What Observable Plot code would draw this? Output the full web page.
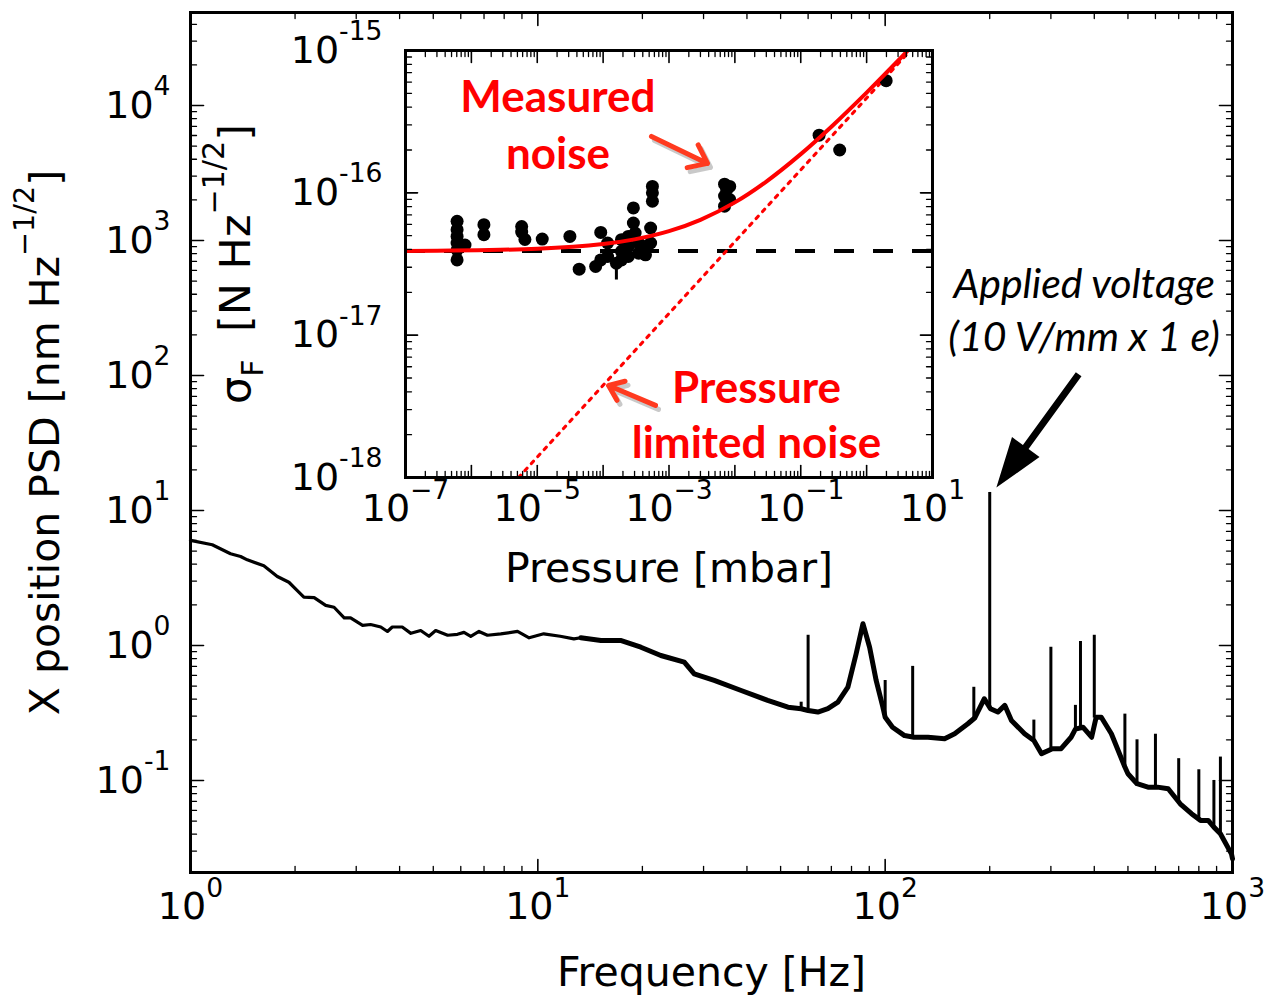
<!DOCTYPE html>
<html>
<head>
<meta charset="utf-8">
<script src="https://cdn.jsdelivr.net/npm/d3@7"></script>
<script src="https://cdn.jsdelivr.net/npm/@observablehq/plot@0.6"></script>
<style>
  body { margin: 0; background: #fff; }
  #wrap { position: relative; width: 1266px; height: 997px; background: #fff; }
  #wrap svg { position: absolute; }
</style>
</head>
<body>
<div id="wrap"></div>
<script>
// ---------- Main chart data: X position PSD vs frequency ----------
const psdFreq = [1.0, 1.155, 1.304, 1.394, 1.457, 1.626, 1.778, 1.92, 2.03, 2.12, 2.27, 2.45, 2.59, 2.77, 2.89, 3.13, 3.30, 3.53, 3.69, 3.81, 4.07, 4.31, 4.60, 4.86, 5.08, 5.50, 5.87, 6.13, 6.41, 6.77, 7.16, 7.82, 8.74, 9.44, 10.4, 11.6, 12.7, 13.3, 15.2, 17.3, 19.8, 22.6, 26.4, 28.2, 32.2, 38.5, 45.9, 52.5, 57.3, 60.0, 64.0, 68.4, 73.1, 78.1, 82.5, 86.3, 90.2, 94.2, 98.5, 100, 105, 113.7, 121, 132.8, 148.3, 158.5, 173, 181, 193, 201, 211, 221, 231, 252, 268, 282, 303, 321, 343, 353, 371, 393, 405, 419, 448, 490, 500, 531, 571, 608, 653, 707, 762, 809, 851, 884, 923, 993, 1000];
const psdValue = [6.0, 5.57, 4.78, 4.56, 4.31, 3.89, 3.24, 2.94, 2.55, 2.28, 2.26, 1.98, 1.92, 1.60, 1.60, 1.41, 1.43, 1.37, 1.27, 1.37, 1.37, 1.23, 1.29, 1.17, 1.29, 1.19, 1.21, 1.25, 1.17, 1.27, 1.19, 1.22, 1.27, 1.14, 1.22, 1.17, 1.12, 1.14, 1.09, 1.09, 0.971, 0.843, 0.752, 0.617, 0.551, 0.464, 0.392, 0.349, 0.340, 0.33, 0.321, 0.340, 0.380, 0.491, 0.868, 1.45, 0.971, 0.551, 0.349, 0.294, 0.248, 0.215, 0.209, 0.209, 0.204, 0.222, 0.263, 0.29, 0.403, 0.340, 0.321, 0.36, 0.278, 0.222, 0.198, 0.158, 0.172, 0.172, 0.209, 0.24, 0.248, 0.209, 0.294, 0.294, 0.222, 0.1256, 0.112, 0.0946, 0.0892, 0.0892, 0.0868, 0.0672, 0.0567, 0.0506, 0.0506, 0.0451, 0.0403, 0.0286, 0.0263];
// narrow spectral lines
const spikeFreq = [57.3, 60, 100, 120, 180, 200, 268, 300, 353, 365, 400, 490, 531, 600, 700, 800, 884, 923];
const spikeBase = [0.34, 0.33, 0.30, 0.21, 0.29, 0.34, 0.20, 0.17, 0.24, 0.24, 0.29, 0.125, 0.095, 0.089, 0.067, 0.051, 0.045, 0.040];
const spikeTop  = [0.38, 1.19, 0.55, 0.70, 0.49, 13.6, 0.28, 0.97, 0.36, 1.07, 1.19, 0.31, 0.20, 0.22, 0.145, 0.12, 0.10, 0.149];
const mainXTicks = [1, 10, 100, 1000];
const mainXTickLabels = ["10^{0}", "10^{1}", "10^{2}", "10^{3}"];
const mainYTicks = [0.1, 1, 10, 100, 1000, 10000];
const mainYTickLabels = ["10^{-1}", "10^{0}", "10^{1}", "10^{2}", "10^{3}", "10^{4}"];
const mainXLabel = "Frequency [Hz]";
const mainYLabel = "X position PSD [nm Hz^{\u22121/2}]";
const voltText = "Applied voltage\n(10 V/mm x 1 e)";

// ---------- Inset data: force noise vs pressure ----------
const pressure = [6.07e-7, 6.07e-7, 6.07e-7, 6.07e-7, 6.07e-7, 6.07e-7, 8.0e-7, 1.55e-6, 1.55e-6, 5.8e-6, 5.8e-6, 6.5e-6, 1.19e-5, 3.13e-5, 4.33e-5, 9.2e-5, 9.2e-5, 7.7e-5, 1.17e-4, 1.17e-4, 1.59e-4, 1.9e-4, 1.9e-4, 1.9e-4, 2.41e-4, 2.41e-4, 2.41e-4, 2.88e-4, 2.88e-4, 3.06e-4, 3.46e-4, 3.46e-4, 4.4e-4, 4.4e-4, 5.26e-4, 5.26e-4, 5.6e-4, 5.6e-4, 5.6e-4, 6.97e-3, 6.97e-3, 6.97e-3, 7.5e-3, 8.35e-3, 8.35e-3, 0.19, 0.39, 1.98];
const sigma = [6.31e-17, 5.51e-17, 4.94e-17, 4.44e-17, 3.98e-17, 3.38e-17, 4.3e-17, 5.97e-17, 5.08e-17, 5.8e-17, 5.3e-17, 4.7e-17, 4.73e-17, 4.94e-17, 2.91e-17, 5.27e-17, 3.38e-17, 3.04e-17, 4.44e-17, 3.57e-17, 3.2e-17, 4.69e-17, 3.88e-17, 3.38e-17, 4.94e-17, 4.2e-17, 3.57e-17, 6.14e-17, 7.83e-17, 5.22e-17, 4.44e-17, 3.77e-17, 4.2e-17, 3.67e-17, 5.66e-17, 4.44e-17, 8.73e-17, 1.0e-16, 1.11e-16, 1.15e-16, 9.5e-17, 8.06e-17, 1.05e-16, 1.11e-16, 8.97e-17, 2.54e-16, 2.0e-16, 6.14e-16];
const errPressure = [1.59e-4];
const errLow = [2.44e-17];
const errHigh = [3.5e-17];
const fitPressure = [1e-7, 1e-5, 1e-4, 3e-4, 1e-3, 3e-3, 1e-2, 3e-2, 0.1, 0.3, 1, 3, 4.3];
const fitSigma = [3.9e-17, 4.05e-17, 4.37e-17, 4.71e-17, 5.38e-17, 6.46e-17, 8.57e-17, 1.2e-16, 1.87e-16, 2.95e-16, 5.06e-16, 8.47e-16, 1.01e-15];
const limitPressure = [5.2e-6, 4.6];
const limitSigma = [1e-18, 1e-15];
const floorSigma = [3.9e-17];
const insetXTicks = [1e-7, 1e-5, 1e-3, 1e-1, 10];
const insetXTickLabels = ["10^{\u22127}", "10^{\u22125}", "10^{\u22123}", "10^{\u22121}", "10^{1}"];
const insetYTicks = [1e-18, 1e-17, 1e-16, 1e-15];
const insetYTickLabels = ["10^{-18}", "10^{-17}", "10^{-16}", "10^{-15}"];
const insetXLabel = "Pressure [mbar]";
const insetYLabel = "\u03c3_{F}\u00a0 [N Hz^{\u22121/2}]";
const measuredText = "Measured\nnoise";
const limitedText = "Pressure\nlimited noise";

// ---------- helpers ----------
const svgns = "http://www.w3.org/2000/svg";
function richify(el) {
  const str = el.textContent;
  const parts = str.split(/(\^\{[^}]*\}|_\{[^}]*\})/).filter(s => s.length);
  el.textContent = "";
  let off = 0;
  for (const p of parts) {
    let txt = p, target = 0, k = 1;
    if (p.startsWith("^{")) { txt = p.slice(2, -1); target = -0.6; k = 0.7; }
    else if (p.startsWith("_{")) { txt = p.slice(2, -1); target = 0.3; k = 0.7; }
    const ts = document.createElementNS(svgns, "tspan");
    if (k !== 1) ts.setAttribute("font-size", (k * 100) + "%");
    const d = target - off;
    if (d) ts.setAttribute("dy", (d / k).toFixed(3) + "em");
    ts.textContent = txt;
    el.appendChild(ts);
    off = target;
  }
}
function rich(svg) {
  svg.querySelectorAll("text").forEach(el => {
    if (el.querySelector("tspan")) return;
    if (/[\^_]\{/.test(el.textContent)) richify(el);
  });
}
const tickShape = {draw(ctx, l) { ctx.moveTo(0, 0); ctx.lineTo(0, -l); }};
function frameTicks(domain, axis, majorLen, minorLen) {
  const all = d3.scaleLog().domain(domain).ticks();
  const isMajor = v => Math.abs(Math.log10(v) - Math.round(Math.log10(v))) < 1e-9;
  const major = all.filter(isMajor), minor = all.filter(v => !isMajor(v));
  const sides = axis === "x" ? [["bottom", 0], ["top", 180]] : [["left", 90], ["right", 270]];
  const marks = [];
  for (const [side, rot] of sides) {
    for (const [vals, len, sw] of [[major, majorLen, 1.6], [minor, minorLen, 1.3]]) {
      marks.push(Plot.vector(vals, {[axis]: d => d, frameAnchor: side, rotate: rot, length: len,
        anchor: "start", shape: tickShape, stroke: "black", strokeWidth: sw}));
    }
  }
  return marks;
}
const labelFor = (ticks, labels) => d => labels[ticks.findIndex(t => Math.abs(t / d - 1) < 1e-6)];

const baseStyle = {background: "transparent", color: "black", fontFamily: "'DejaVu Sans', sans-serif", overflow: "visible"};

// ---------- main plot ----------
const xDom = [1, 1000], yDom = [0.0208, 48900];
const psd = psdFreq.map((f, i) => ({f, v: psdValue[i]}));
const spikes = spikeFreq.map((f, i) => ({f, lo: spikeBase[i], hi: spikeTop[i]}));
const arrowShape = {draw(ctx, l) {
  const h = 50, hw = 17, sw = 3.5;
  ctx.moveTo(-sw, 0); ctx.lineTo(-sw, -(l - h)); ctx.lineTo(-hw, -(l - h)); ctx.lineTo(0, -l);
  ctx.lineTo(hw, -(l - h)); ctx.lineTo(sw, -(l - h)); ctx.lineTo(sw, 0); ctx.closePath();
}};
const main = Plot.plot({
  width: 1266, height: 997,
  marginLeft: 190, marginRight: 34, marginTop: 12, marginBottom: 125,
  style: baseStyle,
  x: {type: "log", domain: xDom},
  y: {type: "log", domain: yDom},
  marks: [
    // low-frequency part is a thin trace; above ~15 Hz the noisy trace reads as a thicker band
    Plot.line(psd.filter(d => d.f <= 15.2), {x: "f", y: "v", stroke: "black", strokeWidth: 3.2, strokeLinejoin: "round"}),
    Plot.line(psd.filter(d => d.f >= 13.3), {x: "f", y: "v", stroke: "black", strokeWidth: 5, strokeLinejoin: "round"}),
    Plot.ruleX(spikes, {x: "f", y1: "lo", y2: "hi", stroke: "black", strokeWidth: 3}),
    ...frameTicks(xDom, "x", 13, 6),
    ...frameTicks(yDom, "y", 13, 6),
    Plot.frame({stroke: "black", strokeWidth: 3}),
    Plot.axisX({ticks: mainXTicks, tickSize: 0, tickPadding: 20, fontSize: 38, label: null,
      tickFormat: labelFor(mainXTicks, mainXTickLabels)}),
    Plot.axisY({ticks: mainYTicks, tickSize: 0, tickPadding: 20, fontSize: 38, label: null,
      tickFormat: labelFor(mainYTicks, mainYTickLabels)}),
    Plot.text([mainXLabel], {frameAnchor: "bottom", dy: 100, text: d => d, fontSize: 41, fill: "black",
      textAnchor: "middle", lineAnchor: "middle"}),
    Plot.text([mainYLabel], {frameAnchor: "left", dx: -145, rotate: -90, text: d => d, fontSize: 41, fill: "black",
      textAnchor: "middle", lineAnchor: "middle"}),
    Plot.vector([{f: 209, v: 14.8}], {x: "f", y: "v", anchor: "end", rotate: 216, length: 140,
      shape: arrowShape, fill: "black", stroke: null}),
    Plot.text([voltText], {x: () => 374, y: () => 319, text: d => d, fontSize: 41, fontStyle: "italic",
      fontFamily: "Lato, 'Open Sans', sans-serif", lineHeight: 1.28, fill: "black"})
  ]
});
main.style.left = "0px"; main.style.top = "0px";
rich(main);

// ---------- inset plot ----------
const pxDom = [1e-7, 10], pyDom = [1e-18, 1e-15];
const pts = pressure.map((p, i) => ({p, s: sigma[i]}));
const fit = fitPressure.map((p, i) => ({p, s: fitSigma[i]}));
const lim = limitPressure.map((p, i) => ({p, s: limitSigma[i]}));
const err = errPressure.map((p, i) => ({p, lo: errLow[i], hi: errHigh[i]}));
const redArrows = [
  {x1: 5.42e-4, y1: 2.49e-16, x2: 3.84e-3, y2: 1.61e-16},
  {x1: 6.24e-4, y1: 3.21e-18, x2: 1.21e-4, y2: 4.43e-18}
];
const inset = Plot.plot({
  width: 760, height: 600,
  marginLeft: 215, marginRight: 18, marginTop: 50, marginBottom: 123,
  style: baseStyle,
  x: {type: "log", domain: pxDom},
  y: {type: "log", domain: pyDom},
  marks: [
    Plot.frame({fill: "white", stroke: null}),
    Plot.ruleY(floorSigma, {stroke: "black", strokeWidth: 4, strokeDasharray: "20,19"}),
    Plot.line(lim, {x: "p", y: "s", stroke: "#ff0000", strokeWidth: 3.2, strokeDasharray: "3,6.5", clip: true}),
    Plot.dot(pts, {x: "p", y: "s", r: 6.5, fill: "black", stroke: null}),
    Plot.ruleX(err, {x: "p", y1: "lo", y2: "hi", stroke: "black", strokeWidth: 3}),
    Plot.line(fit, {x: "p", y: "s", stroke: "#ff0000", strokeWidth: 4, curve: "catmull-rom", clip: true}),
    Plot.arrow(redArrows, {x1: "x1", y1: "y1", x2: "x2", y2: "y2", stroke: "#888", strokeOpacity: 0.45,
      strokeWidth: 5, headLength: 22, headAngle: 75, dx: 3, dy: 4}),
    Plot.arrow(redArrows, {x1: "x1", y1: "y1", x2: "x2", y2: "y2", stroke: "#ff3a1f",
      strokeWidth: 5, headLength: 22, headAngle: 75}),
    Plot.text([measuredText], {x: () => 2.06e-5, y: () => 3.12e-16, text: d => d, fontSize: 44,
      fontWeight: "bold", fontFamily: "Lato, 'Open Sans', sans-serif", lineHeight: 1.3, fill: "#ff0000"}),
    Plot.text([limitedText], {x: () => 0.0213, y: () => 2.86e-18, text: d => d, fontSize: 44,
      fontWeight: "bold", fontFamily: "Lato, 'Open Sans', sans-serif", lineHeight: 1.25, fill: "#ff0000"}),
    ...frameTicks(pxDom, "x", 12, 6),
    ...frameTicks(pyDom, "y", 12, 6),
    Plot.frame({stroke: "black", strokeWidth: 3}),
    Plot.axisX({ticks: insetXTicks, tickSize: 0, tickPadding: 17, fontSize: 38, label: null,
      tickFormat: labelFor(insetXTicks, insetXTickLabels)}),
    Plot.axisY({ticks: insetYTicks, tickSize: 0, tickPadding: 23, fontSize: 38, label: null,
      tickFormat: labelFor(insetYTicks, insetYTickLabels)}),
    Plot.text([insetXLabel], {frameAnchor: "bottom", dy: 91, text: d => d, fontSize: 41, fill: "black",
      textAnchor: "middle", lineAnchor: "middle"}),
    Plot.text([insetYLabel], {frameAnchor: "left", dx: -169, rotate: -90, text: d => d, fontSize: 43, fill: "black",
      textAnchor: "middle", lineAnchor: "middle"})
  ]
});
inset.style.left = "190px"; inset.style.top = "0px";
rich(inset);

const wrap = document.getElementById("wrap");
wrap.appendChild(main);
wrap.appendChild(inset);
</script>
</body>
</html>
